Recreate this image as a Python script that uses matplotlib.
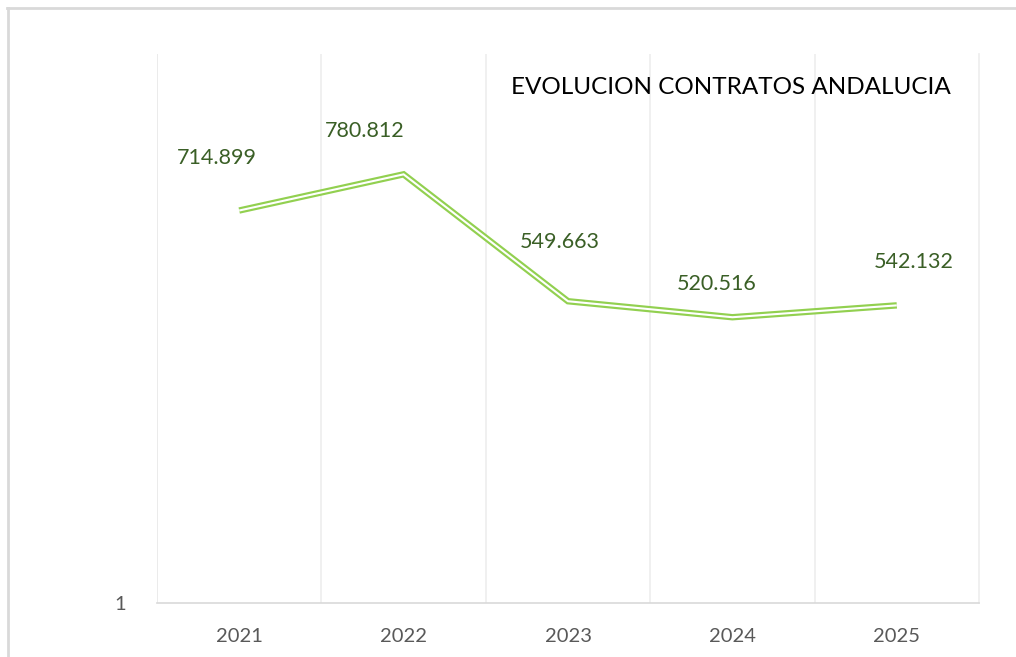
import matplotlib
matplotlib.use("Agg")
import matplotlib.pyplot as plt
from matplotlib.lines import Line2D

years = ["2021", "2022", "2023", "2024", "2025"]
contratos = [714899, 780812, 549663, 520516, 542132]
labels = ["714.899", "780.812", "549.663", "520.516", "542.132"]
# label offsets in pixels (dx, dy) relative to each point
label_offsets = [(-22, 53), (-39, 43), (-8, 59), (-16, 33), (17, 43)]

W, H = 1016, 657
fig = plt.figure(figsize=(W / 100, H / 100), dpi=100)
fig.patch.set_facecolor("white")

# plot area in pixel coords
left, right, top, bottom = 157, 979, 54, 603
ax = fig.add_axes([left / W, 1 - bottom / H, (right - left) / W, (bottom - top) / H])

x = list(range(len(years)))
line_green = "#92D050"
ax.plot(x, contratos, color=line_green, lw=4.6, solid_joinstyle="miter",
        solid_capstyle="butt", zorder=3)
ax.plot(x, contratos, color="white", lw=1.5, solid_joinstyle="miter",
        solid_capstyle="butt", zorder=4)

ax.set_xlim(-0.5, len(years) - 0.5)
ax.set_ylim(1, 1000001)
ax.set_yticks([1])
ax.set_yticklabels(["1"])
ax.set_xticks(x)
ax.set_xticklabels(years)
ax.set_xticks([i + 0.5 for i in range(len(years) - 1)], minor=True)
ax.grid(True, which="minor", axis="x", color="#EDEDED", lw=1.2)
ax.tick_params(which="both", length=0)
ax.tick_params(axis="x", pad=18, labelsize=14.5, labelcolor="#595959")
ax.tick_params(axis="y", pad=22, labelsize=14.5, labelcolor="#595959")
for t in ax.get_xticklabels() + ax.get_yticklabels():
    t.set_fontfamily("Lato")

for s in ["top", "left"]:
    ax.spines[s].set_visible(False)
ax.spines["bottom"].set_color("#D9D9D9")
ax.spines["bottom"].set_linewidth(1.2)
ax.spines["right"].set_color("#EDEDED")
ax.spines["right"].set_linewidth(1.2)
ax.spines["right"].set_visible(True)
# left axis line (light)
ax.axvline(-0.5, color="#E8E8E8", lw=1.2)

for xi, yi, lab, (dx, dy) in zip(x, contratos, labels, label_offsets):
    ax.annotate(lab, (xi, yi), xytext=(dx, dy), textcoords="offset pixels",
                ha="center", va="center", fontsize=15.5, color="#3A5F26",
                fontfamily="Lato", zorder=5)

fig.text(731 / W, 1 - 87 / H, "EVOLUCION CONTRATOS ANDALUCIA", ha="center", va="center",
         fontsize=17.5, color="black", fontfamily="Lato")

# chart outer border (top and left visible)
fig.add_artist(Line2D([7 / W, 1.0], [1 - 8 / H, 1 - 8 / H], color="#D9D9D9", lw=2,
                      transform=fig.transFigure))
fig.add_artist(Line2D([8 / W, 8 / W], [0, 1 - 8 / H], color="#D9D9D9", lw=2,
                      transform=fig.transFigure))

fig.savefig("out.png", dpi=100, facecolor="white")
